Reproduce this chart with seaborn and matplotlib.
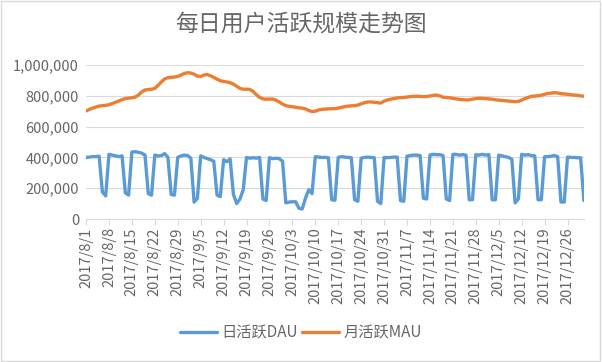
import numpy as np
import pandas as pd
import matplotlib
matplotlib.use("Agg")
import matplotlib.pyplot as plt
import seaborn as sns

# daily values, 2017/8/1 .. 2017/12/31
dates = pd.date_range("2017-08-01", "2017-12-31", freq="D")

dau = [
    400, 402, 405, 405, 408, 175, 150,
    420, 415, 410, 405, 410, 170, 155,
    435, 437, 433, 428, 415, 165, 155,
    415, 410, 412, 425, 400, 160, 155,
    400, 410, 415, 412, 395, 110, 135,
    410, 400, 392, 385, 375, 155, 145,
    385, 372, 390, 160, 100, 130, 190,
    400, 395, 398, 395, 400, 130, 120,
    398, 392, 395, 392, 375, 105, 110,
    112, 112, 70, 65, 135, 190, 165,
    405, 402, 400, 400, 398, 125, 122,
    400, 405, 402, 400, 398, 125, 115,
    395, 400, 402, 400, 398, 115, 100,
    400, 398, 400, 402, 402, 120, 115,
    408, 412, 415, 415, 412, 135, 130,
    415, 420, 418, 418, 412, 130, 120,
    420, 420, 415, 418, 415, 125, 125,
    418, 415, 420, 415, 418, 125, 125,
    415, 410, 405, 400, 388, 105, 130,
    420, 415, 418, 412, 410, 125, 125,
    405, 405, 408, 412, 405, 110, 110,
    402, 400, 400, 398, 398, 120,
]

mau = [
    701, 712, 720, 727, 733, 736, 738,
    742, 750, 758, 766, 775, 782, 785,
    787, 792, 805, 825, 838, 841, 843,
    848, 868, 890, 910, 918, 920, 922,
    926, 935, 945, 950, 948, 940, 928,
    925, 935, 938, 930, 920, 908, 898,
    893, 890, 886, 876, 862, 848, 843,
    843, 842, 828, 808, 790, 780, 778,
    779, 779, 772, 760, 746, 736, 732,
    729, 726, 722, 720, 715, 705, 698,
    700, 708, 712, 714, 715, 716, 717,
    720, 725, 730, 733, 735, 736, 740,
    748, 755, 760, 760, 758, 755, 753,
    765, 773, 778, 782, 786, 788, 789,
    792, 795, 797, 797, 796, 795, 795,
    799, 803, 805, 800, 791, 789, 787,
    784, 780, 777, 775, 773, 774, 778,
    782, 784, 783, 782, 780, 778, 774,
    772, 770, 768, 766, 764, 762, 764,
    772, 782, 790, 796, 798, 800, 804,
    810, 815, 818, 820, 818, 814, 812,
    810, 807, 805, 803, 800, 797,
]

series_names = ["日活跃DAU", "月活跃MAU"]
colors = ["#5B9BD5", "#ED7D31"]

df = pd.DataFrame({
    "day": np.arange(len(dates)),
    series_names[0]: np.array(dau) * 1000,
    series_names[1]: np.array(mau) * 1000,
})
long_df = df.melt(id_vars="day", var_name="series", value_name="users")

sns.set_theme(style="white")
plt.rcParams["font.family"] = ["Noto Sans CJK SC", "DejaVu Sans"]
plt.rcParams["font.weight"] = "light"

grey = "#666666"
fig = plt.figure(figsize=(6.02, 3.62), dpi=100)
ax = fig.add_axes([0.1429, 0.395, 0.827, 0.4254])

sns.lineplot(data=long_df, x="day", y="users", hue="series",
             palette=colors, hue_order=series_names, linewidth=2.4, ax=ax)

ax.set_xlim(0, len(dates) - 1)
ax.set_ylim(0, 1000000)
ax.set_yticks(np.arange(0, 1000001, 200000))
ax.set_yticklabels([f"{v:,}" for v in range(0, 1000001, 200000)])
tick_pos = np.arange(0, len(dates), 7)
ax.set_xticks(tick_pos)
ax.set_xticklabels([f"{d.year}/{d.month}/{d.day}" for d in dates[tick_pos]],
                   rotation=90)
ax.set_xlabel("")
ax.set_ylabel("")

ax.grid(axis="y", color="#D9D9D9", linewidth=0.8)
ax.set_axisbelow(True)
for s in ["top", "right", "left"]:
    ax.spines[s].set_visible(False)
ax.spines["bottom"].set_color("#D9D9D9")
ax.spines["bottom"].set_linewidth(0.8)
ax.tick_params(axis="x", colors=grey, labelsize=10.5, length=4,
               width=0.8, color="#D9D9D9", pad=2, bottom=True)
ax.tick_params(axis="y", colors=grey, labelsize=10.5, length=0, pad=5)

fig.suptitle("每日用户活跃规模走势图", x=0.5, y=0.965, fontsize=16.5,
             color=grey, fontweight="light")

ax.legend(loc="center", bbox_to_anchor=(0.5, 0.08), bbox_transform=fig.transFigure,
          ncol=2, frameon=False, fontsize=11, handlelength=2.4,
          handletextpad=0.3, columnspacing=0.3, labelcolor=grey)

fig.patches.append(plt.Rectangle((0.002, 0.003), 0.995, 0.994,
                                 transform=fig.transFigure, fill=False,
                                 edgecolor="#D9D9D9", linewidth=1))

fig.savefig("out.png", dpi=100, facecolor="white")
